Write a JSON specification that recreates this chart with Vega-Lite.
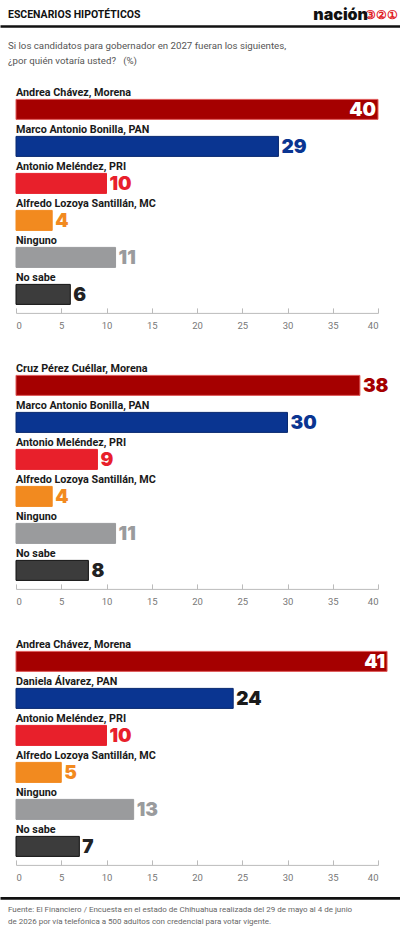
{
  "$schema": "https://vega.github.io/schema/vega-lite/v6.json",
  "padding": {"left": 0, "right": 0, "top": 6.9, "bottom": 0},
  "background": "white",
  "config": {"view": {"stroke": null}, "font": "Roboto"},
  "title": {"text": "ESCENARIOS HIPOTÉTICOS", "anchor": "start", "dx": 8, "fontSize": 10.5, "fontWeight": "bold", "color": "#111", "offset": -13.4, "frame": "group"},
  "bounds": "flush",
  "spacing": 54,
  "datasets": {
    "encuesta": [
      {"escenario": 1, "candidato": "Andrea Chávez, Morena", "grupo": "Morena", "pct": 40},
      {"escenario": 1, "candidato": "Marco Antonio Bonilla, PAN", "grupo": "PAN", "pct": 29},
      {"escenario": 1, "candidato": "Antonio Meléndez, PRI", "grupo": "PRI", "pct": 10},
      {"escenario": 1, "candidato": "Alfredo Lozoya Santillán, MC", "grupo": "MC", "pct": 4},
      {"escenario": 1, "candidato": "Ninguno", "grupo": "Ninguno", "pct": 11},
      {"escenario": 1, "candidato": "No sabe", "grupo": "No sabe", "pct": 6},
      {"escenario": 2, "candidato": "Cruz Pérez Cuéllar, Morena", "grupo": "Morena", "pct": 38},
      {"escenario": 2, "candidato": "Marco Antonio Bonilla, PAN", "grupo": "PAN", "pct": 30},
      {"escenario": 2, "candidato": "Antonio Meléndez, PRI", "grupo": "PRI", "pct": 9},
      {"escenario": 2, "candidato": "Alfredo Lozoya Santillán, MC", "grupo": "MC", "pct": 4},
      {"escenario": 2, "candidato": "Ninguno", "grupo": "Ninguno", "pct": 11},
      {"escenario": 2, "candidato": "No sabe", "grupo": "No sabe", "pct": 8},
      {"escenario": 3, "candidato": "Andrea Chávez, Morena", "grupo": "Morena", "pct": 41},
      {"escenario": 3, "candidato": "Daniela Álvarez, PAN", "grupo": "PAN", "pct": 24},
      {"escenario": 3, "candidato": "Antonio Meléndez, PRI", "grupo": "PRI", "pct": 10},
      {"escenario": 3, "candidato": "Alfredo Lozoya Santillán, MC", "grupo": "MC", "pct": 5},
      {"escenario": 3, "candidato": "Ninguno", "grupo": "Ninguno", "pct": 13},
      {"escenario": 3, "candidato": "No sabe", "grupo": "No sabe", "pct": 7}
    ],
    "marco": [{"v": 0.5}]
  },
  "vconcat": [
    {
      "width": 400,
      "height": 11,
      "data": {"name": "marco"},
      "title": {"text": "nación", "anchor": "end", "dx": -32, "fontSize": 16, "fontWeight": 900, "color": "#111", "offset": -14.6, "font": "Inter"},
      "mark": {"type": "point", "opacity": 0, "size": 1},
      "encoding": {
        "x": {"field": "v", "type": "quantitative", "scale": {"domain": [0, 1], "range": [0, 400]},
          "axis": {"orient": "top", "domainWidth": 2.5, "domainColor": "#111", "ticks": false, "labels": false, "grid": false,
            "title": "③②①", "titleColor": "#e0201f", "titleFontSize": 12, "titleFontWeight": "bold", "titleX": 398, "titleY": -11, "titleAlign": "right", "titleBaseline": "middle", "titleAngle": 0}}
      }
    },
    {
      "width": 400, "height": 222,
      "data": {"name": "encuesta"},
      "transform": [{"filter": "datum.escenario == 1"}],
      "title": {"text": ["Si los candidatos para gobernador en 2027 fueran los siguientes,", "¿por quién votaría usted?\u00a0\u00a0\u00a0(%)"], "anchor": "start", "dx": 8, "fontSize": 9.7, "fontWeight": "normal", "color": "#555", "lineHeight": 15, "offset": 22},
      "layer": [
        {"mark": {"type": "bar", "size": 20, "strokeWidth": 1},
         "encoding": {
            "fill": {"field": "grupo", "type": "nominal", "legend": null,
              "scale": {"domain": ["Morena", "PAN", "PRI", "MC", "Ninguno", "No sabe"], "range": ["#a50000", "#0a3591", "#e8202b", "#f28a1f", "#9a9b9d", "#3c3c3c"]}},
            "stroke": {"field": "grupo", "type": "nominal", "legend": null,
              "scale": {"domain": ["Morena", "PAN", "PRI", "MC", "Ninguno", "No sabe"], "range": ["#e05a5a", "#08286e", "#e8202b", "#f28a1f", "#9a9b9d", "#111111"]}}}},
        {"mark": {"type": "text", "align": "left", "baseline": "middle", "dy": -16, "fontSize": 10.8, "fontWeight": "bold", "color": "#1a1a1a"},
         "encoding": {"x": {"datum": 0}, "text": {"field": "candidato"}}},
        {"transform": [{"filter": "datum.pct >= 40"}],
         "mark": {"type": "text", "align": "right", "baseline": "middle", "dx": -2, "dy": 1, "fontSize": 19, "fontWeight": 900, "font": "Inter", "color": "white"},
         "encoding": {"text": {"field": "pct"}}},
        {"transform": [{"filter": "datum.pct < 40"}],
         "mark": {"type": "text", "align": "left", "baseline": "middle", "dx": 3, "dy": 1, "fontSize": 19, "fontWeight": 900, "font": "Inter"},
         "encoding": {"text": {"field": "pct"},
           "color": {"condition": {"test": "datum.candidato === 'Daniela Álvarez, PAN'", "value": "#1a1a1a"}, "field": "grupo", "type": "nominal", "legend": null,
             "scale": {"domain": ["Morena", "PAN", "PRI", "MC", "Ninguno", "No sabe"], "range": ["#a50000", "#0a3591", "#e8202b", "#f28a1f", "#9a9b9d", "#222222"]}}}}
      ],
      "encoding": {
        "y": {"field": "candidato", "type": "nominal", "sort": null, "axis": null, "scale": {"paddingInner": 0, "paddingOuter": 0}},
        "x": {"field": "pct", "type": "quantitative", "scale": {"domain": [0, 40], "range": [16, 378], "nice": false, "clamp": false},
          "axis": {"values": [0, 5, 10, 15, 20, 25, 30, 35, 40], "title": null, "grid": false, "domainColor": "#bbbbbb", "tickColor": "#bbbbbb", "tickSize": -5, "labelColor": "#777777", "labelFontSize": 9.5, "labelPadding": 13}}
      }
    },
    {
      "width": 400, "height": 222,
      "data": {"name": "encuesta"},
      "transform": [{"filter": "datum.escenario == 2"}],
      "layer": [
        {"mark": {"type": "bar", "size": 20, "strokeWidth": 1},
         "encoding": {
            "fill": {"field": "grupo", "type": "nominal", "legend": null,
              "scale": {"domain": ["Morena", "PAN", "PRI", "MC", "Ninguno", "No sabe"], "range": ["#a50000", "#0a3591", "#e8202b", "#f28a1f", "#9a9b9d", "#3c3c3c"]}},
            "stroke": {"field": "grupo", "type": "nominal", "legend": null,
              "scale": {"domain": ["Morena", "PAN", "PRI", "MC", "Ninguno", "No sabe"], "range": ["#e05a5a", "#08286e", "#e8202b", "#f28a1f", "#9a9b9d", "#111111"]}}}},
        {"mark": {"type": "text", "align": "left", "baseline": "middle", "dy": -16, "fontSize": 10.8, "fontWeight": "bold", "color": "#1a1a1a"},
         "encoding": {"x": {"datum": 0}, "text": {"field": "candidato"}}},
        {"transform": [{"filter": "datum.pct >= 40"}],
         "mark": {"type": "text", "align": "right", "baseline": "middle", "dx": -2, "dy": 1, "fontSize": 19, "fontWeight": 900, "font": "Inter", "color": "white"},
         "encoding": {"text": {"field": "pct"}}},
        {"transform": [{"filter": "datum.pct < 40"}],
         "mark": {"type": "text", "align": "left", "baseline": "middle", "dx": 3, "dy": 1, "fontSize": 19, "fontWeight": 900, "font": "Inter"},
         "encoding": {"text": {"field": "pct"},
           "color": {"condition": {"test": "datum.candidato === 'Daniela Álvarez, PAN'", "value": "#1a1a1a"}, "field": "grupo", "type": "nominal", "legend": null,
             "scale": {"domain": ["Morena", "PAN", "PRI", "MC", "Ninguno", "No sabe"], "range": ["#a50000", "#0a3591", "#e8202b", "#f28a1f", "#9a9b9d", "#222222"]}}}}
      ],
      "encoding": {
        "y": {"field": "candidato", "type": "nominal", "sort": null, "axis": null, "scale": {"paddingInner": 0, "paddingOuter": 0}},
        "x": {"field": "pct", "type": "quantitative", "scale": {"domain": [0, 40], "range": [16, 378], "nice": false, "clamp": false},
          "axis": {"values": [0, 5, 10, 15, 20, 25, 30, 35, 40], "title": null, "grid": false, "domainColor": "#bbbbbb", "tickColor": "#bbbbbb", "tickSize": -5, "labelColor": "#777777", "labelFontSize": 9.5, "labelPadding": 13}}
      }
    },
    {
      "width": 400, "height": 222,
      "data": {"name": "encuesta"},
      "transform": [{"filter": "datum.escenario == 3"}],
      "layer": [
        {"mark": {"type": "bar", "size": 20, "strokeWidth": 1},
         "encoding": {
            "fill": {"field": "grupo", "type": "nominal", "legend": null,
              "scale": {"domain": ["Morena", "PAN", "PRI", "MC", "Ninguno", "No sabe"], "range": ["#a50000", "#0a3591", "#e8202b", "#f28a1f", "#9a9b9d", "#3c3c3c"]}},
            "stroke": {"field": "grupo", "type": "nominal", "legend": null,
              "scale": {"domain": ["Morena", "PAN", "PRI", "MC", "Ninguno", "No sabe"], "range": ["#e05a5a", "#08286e", "#e8202b", "#f28a1f", "#9a9b9d", "#111111"]}}}},
        {"mark": {"type": "text", "align": "left", "baseline": "middle", "dy": -16, "fontSize": 10.8, "fontWeight": "bold", "color": "#1a1a1a"},
         "encoding": {"x": {"datum": 0}, "text": {"field": "candidato"}}},
        {"transform": [{"filter": "datum.pct >= 40"}],
         "mark": {"type": "text", "align": "right", "baseline": "middle", "dx": -2, "dy": 1, "fontSize": 19, "fontWeight": 900, "font": "Inter", "color": "white"},
         "encoding": {"text": {"field": "pct"}}},
        {"transform": [{"filter": "datum.pct < 40"}],
         "mark": {"type": "text", "align": "left", "baseline": "middle", "dx": 3, "dy": 1, "fontSize": 19, "fontWeight": 900, "font": "Inter"},
         "encoding": {"text": {"field": "pct"},
           "color": {"condition": {"test": "datum.candidato === 'Daniela Álvarez, PAN'", "value": "#1a1a1a"}, "field": "grupo", "type": "nominal", "legend": null,
             "scale": {"domain": ["Morena", "PAN", "PRI", "MC", "Ninguno", "No sabe"], "range": ["#a50000", "#0a3591", "#e8202b", "#f28a1f", "#9a9b9d", "#222222"]}}}}
      ],
      "encoding": {
        "y": {"field": "candidato", "type": "nominal", "sort": null, "axis": null, "scale": {"paddingInner": 0, "paddingOuter": 0}},
        "x": {"field": "pct", "type": "quantitative", "scale": {"domain": [0, 40], "range": [16, 378], "nice": false, "clamp": false},
          "axis": {"values": [0, 5, 10, 15, 20, 25, 30, 35, 40], "title": null, "grid": false, "domainColor": "#bbbbbb", "tickColor": "#bbbbbb", "tickSize": -5, "labelColor": "#777777", "labelFontSize": 9.5, "labelPadding": 13}}
      }
    },
    {
      "width": 400,
      "height": 0,
      "data": {"name": "marco"},
      "title": {"text": ["Fuente: El Financiero / Encuesta en el estado de Chihuahua realizada del 29 de mayo al 4 de junio", "de 2026 por vía telefónica a 500 adultos con credencial para votar vigente."], "orient": "bottom", "anchor": "start", "dx": 8, "fontSize": 8.0, "fontWeight": "normal", "color": "#666", "lineHeight": 12, "offset": -33},
      "mark": {"type": "point", "opacity": 0, "size": 1},
      "encoding": {
        "x": {"field": "v", "type": "quantitative", "scale": {"domain": [0, 1], "range": [0, 400]},
          "axis": {"orient": "top", "offset": 21, "domainWidth": 2.7, "domainColor": "#111", "ticks": false, "labels": false, "title": null, "grid": false}}
      }
    }
  ]
}
